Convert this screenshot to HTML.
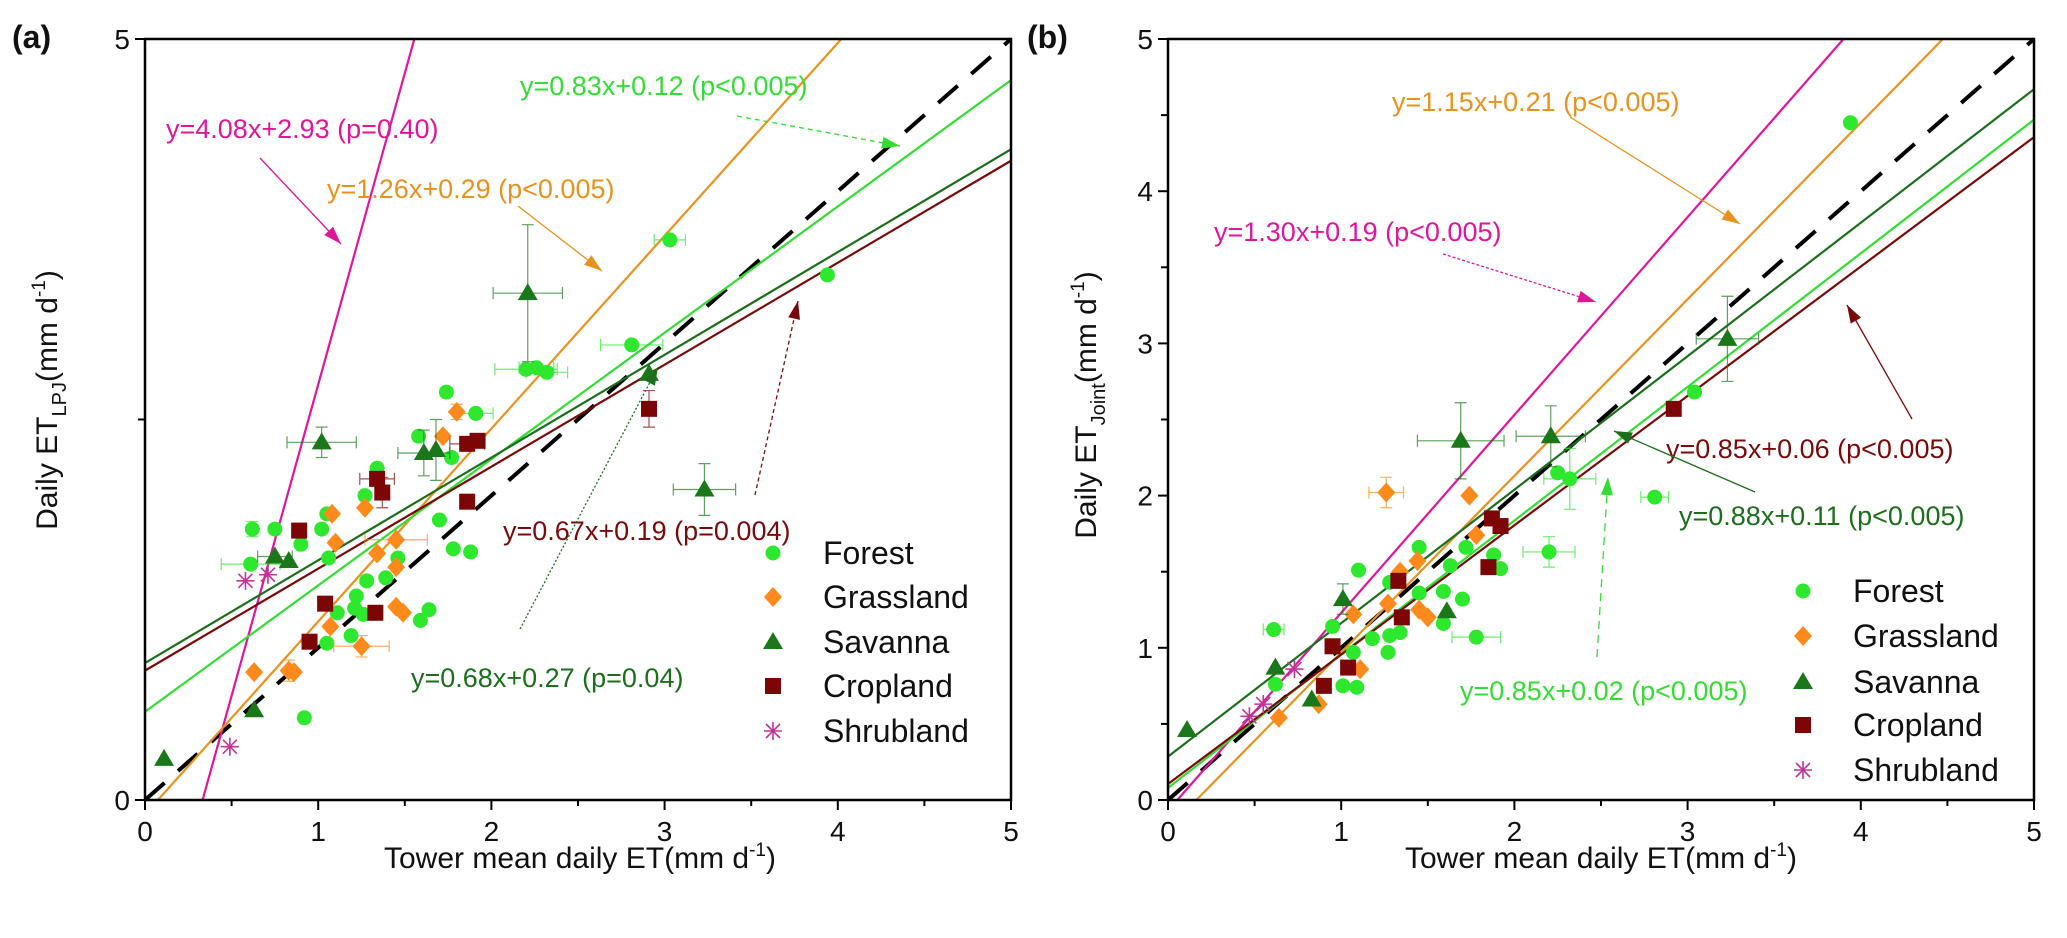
<!DOCTYPE html>
<html><head><meta charset="utf-8"><style>
html,body{margin:0;padding:0;background:#fff;}
svg{display:block;font-family:"Liberation Sans",Arial,sans-serif;}
</style></head><body>
<svg id="chart" width="2067" height="938" viewBox="0 0 2067 938" xmlns="http://www.w3.org/2000/svg"></svg>
<script>
// ---------- DATA ----------
const xTicks = [0,1,2,3,4,5];
const yTicksA = [0,5];
const yTicksB = [0,1,2,3,4,5];
const classes = ["Forest","Grassland","Savanna","Cropland","Shrubland"];
// panel (a) points [x, y, xerr, yerr]
const aForest = [[3.03,3.68,0.09,0],[2.81,2.99,0.18,0],[2.20,2.83,0.18,0],[2.26,2.84,0.1,0],[2.32,2.81,0.12,0],[1.74,2.68,0,0],[1.91,2.54,0.1,0],[1.58,2.39,0,0],[1.77,2.25,0,0],[1.34,2.18,0,0],[1.27,2.0,0,0],[1.05,1.88,0,0],[1.70,1.84,0,0],[0.62,1.78,0,0.05],[0.75,1.78,0,0],[0.90,1.68,0,0],[1.02,1.78,0,0],[1.06,1.59,0,0],[0.61,1.55,0.17,0],[1.78,1.65,0,0],[1.88,1.63,0,0],[1.46,1.59,0,0],[1.39,1.46,0,0],[1.28,1.44,0,0],[1.22,1.34,0,0],[1.21,1.26,0,0],[1.11,1.23,0,0],[1.26,1.22,0,0],[1.59,1.18,0,0],[1.64,1.25,0,0],[1.19,1.08,0,0],[1.05,1.03,0,0],[0.92,0.54,0,0],[3.94,3.45,0,0]];
const aGrass = [[1.80,2.55,0,0.05],[1.72,2.39,0,0],[1.27,1.92,0,0],[1.08,1.88,0,0],[1.10,1.69,0,0],[1.45,1.71,0.18,0],[1.34,1.62,0,0],[1.45,1.53,0,0],[1.45,1.27,0,0],[1.49,1.23,0,0],[1.07,1.14,0,0],[1.25,1.01,0.16,0.07],[0.63,0.84,0,0],[0.83,0.85,0,0.07],[0.86,0.84,0,0]];
const aSav = [[2.21,3.33,0.2,0.45],[1.02,2.35,0.2,0.1],[1.61,2.28,0.15,0.15],[1.68,2.30,0,0.2],[2.91,2.80,0,0],[3.23,2.04,0.18,0.17],[0.75,1.60,0.1,0],[0.83,1.57,0,0],[0.63,0.59,0,0],[0.11,0.27,0,0]];
const aCrop = [[0.89,1.77,0,0],[1.34,2.11,0.1,0],[1.37,2.02,0,0.1],[1.86,2.34,0.1,0],[1.92,2.36,0,0],[1.86,1.96,0,0],[2.91,2.57,0,0.12],[1.04,1.29,0,0],[1.33,1.23,0,0],[0.95,1.04,0,0]];
const aShrub = [[0.58,1.44,0,0],[0.71,1.48,0,0],[0.49,0.35,0,0]];
// panel (a) fitted lines [slope, intercept]
const aLines = {magenta:[4.09,-1.36], orange:[1.267,-0.094], light:[0.83,0.58], dark:[0.675,0.90], red:[0.67,0.85]};
// panel (b) points
const bForest = [[0.61,1.12,0.06,0],[1.10,1.51,0,0],[1.45,1.66,0,0],[1.63,1.54,0,0],[1.88,1.61,0,0],[1.92,1.52,0,0],[1.72,1.66,0,0],[2.20,1.63,0.15,0.1],[2.25,2.15,0,0],[2.32,2.11,0.15,0.2],[2.81,1.99,0.08,0],[1.70,1.32,0,0],[1.59,1.37,0,0],[1.45,1.36,0,0],[1.59,1.16,0,0],[1.78,1.07,0.14,0],[1.28,1.43,0,0],[1.28,1.08,0,0],[1.18,1.06,0,0],[1.34,1.10,0,0],[1.27,0.97,0,0],[1.07,0.97,0,0],[1.01,0.75,0,0],[1.09,0.74,0,0],[0.62,0.76,0,0],[0.95,1.14,0,0],[3.94,4.45,0,0],[3.04,2.68,0,0]];
const bGrass = [[1.26,2.02,0.1,0.1],[1.74,2.0,0,0],[1.34,1.50,0,0],[1.44,1.57,0,0],[1.27,1.29,0,0],[1.07,1.22,0,0],[1.45,1.25,0,0],[1.50,1.20,0,0],[1.11,0.86,0,0],[1.78,1.74,0,0],[0.64,0.54,0,0],[0.87,0.63,0,0]];
const bSav = [[1.69,2.36,0.25,0.25],[2.21,2.39,0.2,0.2],[1.01,1.32,0,0.1],[1.61,1.24,0,0],[0.62,0.87,0,0],[0.11,0.46,0,0],[0.83,0.66,0,0],[3.23,3.03,0.18,0.28]];
const bCrop = [[1.87,1.85,0,0],[1.92,1.80,0,0],[1.85,1.53,0,0],[1.33,1.44,0,0],[1.35,1.20,0,0],[0.95,1.01,0,0],[1.04,0.87,0,0],[0.90,0.75,0,0],[2.92,2.57,0,0]];
const bShrub = [[0.73,0.86,0,0],[0.47,0.55,0,0],[0.55,0.63,0,0]];
const bLines = {magenta:[1.30,-0.07], orange:[1.16,-0.19], dark:[0.877,0.285], light:[0.878,0.08], red:[0.85,0.105]};

// ---------- RENDER ----------
const svg = document.getElementById('chart');
const NS = 'http://www.w3.org/2000/svg';
function mk(tag, attrs, parent){const e=document.createElementNS(NS,tag);for(const k in attrs)e.setAttribute(k,attrs[k]);(parent||svg).appendChild(e);return e;}
const COL = {Forest:'#2ee82e',Grassland:'#ff8a1c',Savanna:'#1a781a',Cropland:'#7c0606',Shrubland:'#c0359a'};
const LCOL = {magenta:'#e0169a', orange:'#e8921e', light:'#33dd33', dark:'#1c6e1c', red:'#780a0a'};

function makeAxes(L,R,T,B){
  const sx=v=>L+(R-L)*v/5, sy=v=>B-(B-T)*v/5;
  return {sx,sy,L,R,T,B};
}
const A = makeAxes(145,1011,39,800);
const Bp = makeAxes(1168,2034,39,800);

function marker(g, cls, px, py){
  let e;
  const c=COL[cls];
  if(cls==='Forest'){e=mk('circle',{cx:px,cy:py,r:7.5,fill:c},g);}
  else if(cls==='Grassland'){e=mk('polygon',{points:`${px},${py-10} ${px+9},${py} ${px},${py+10} ${px-9},${py}`,fill:c},g);}
  else if(cls==='Savanna'){e=mk('polygon',{points:`${px},${py-10} ${px+10},${py+7} ${px-10},${py+7}`,fill:c},g);}
  else if(cls==='Cropland'){e=mk('rect',{x:px-8,y:py-8,width:16,height:16,fill:c},g);}
  else {e=mk('path',{d:`M${px-9},${py}H${px+9}M${px},${py-9}V${py+9}M${px-7},${py-7}L${px+7},${py+7}M${px+7},${py-7}L${px-7},${py+7}`,stroke:c,'stroke-width':1.6,fill:'none'},g);}
  return e;
}

function drawPoints(ax, cls, pts){
  const g=mk('g',{});
  
  
  pts.forEach(p=>{
    const px=ax.sx(p[0]), py=ax.sy(p[1]);
    if(p[2]>0){const x1=ax.sx(p[0]-p[2]),x2=ax.sx(p[0]+p[2]);
      const eb=mk('path',{d:`M${x1},${py}H${x2}M${x1},${py-6}V${py+6}M${x2},${py-6}V${py+6}`,stroke:COL[cls],'stroke-width':1.2,opacity:0.7,fill:'none'},g);
      
      }
    if(p[3]>0){const y1=ax.sy(p[1]-p[3]),y2=ax.sy(p[1]+p[3]);
      const eb=mk('path',{d:`M${px},${y1}V${y2}M${px-6},${y1}H${px+6}M${px-6},${y2}H${px+6}`,stroke:COL[cls],'stroke-width':1.2,opacity:0.7,fill:'none'},g);
      
      }
    const m=marker(g,cls,px,py);
    
    
  });
}

function clipLine(ax, m, b){
  let x0=0,x1=5;
  if(m!==0){const xa=(0-b)/m, xb=(5-b)/m; const lo=Math.min(xa,xb), hi=Math.max(xa,xb); x0=Math.max(x0,lo); x1=Math.min(x1,hi);}
  return [ax.sx(x0),ax.sy(m*x0+b),ax.sx(x1),ax.sy(m*x1+b)];
}

function drawLines(ax, lines, name){
  const c=clipLine(ax,1,0);
  const d=mk('line',{x1:c[0],y1:c[1],x2:c[2],y2:c[3],stroke:'#000','stroke-width':4,'stroke-dasharray':'26,18'});
  
  
  for(const k in lines){
    const q=clipLine(ax,lines[k][0],lines[k][1]);
    const l=mk('line',{x1:q[0],y1:q[1],x2:q[2],y2:q[3],stroke:LCOL[k],'stroke-width':2.2});
    
    
  }
}

function drawFrame(ax, yTicks, minorY, name){
  const f=mk('rect',{x:ax.L,y:ax.T,width:ax.R-ax.L,height:ax.B-ax.T,fill:'none',stroke:'#000','stroke-width':2.5});
  
  
  xTicks.forEach(v=>{
    mk('line',{x1:ax.sx(v),y1:ax.B,x2:ax.sx(v),y2:ax.B+10,stroke:'#000','stroke-width':2});
    const t=mk('text',{x:ax.sx(v),y:ax.B+41,'font-size':28,'text-anchor':'middle',fill:'#111'});
    t.textContent=v;
    
    
    if(v<5) mk('line',{x1:ax.sx(v+0.5),y1:ax.B,x2:ax.sx(v+0.5),y2:ax.B+6,stroke:'#000','stroke-width':2});
  });
  yTicks.forEach(v=>{
    mk('line',{x1:ax.L-10,y1:ax.sy(v),x2:ax.L,y2:ax.sy(v),stroke:'#000','stroke-width':2});
    const t=mk('text',{x:ax.L-15,y:ax.sy(v)+10,'font-size':28,'text-anchor':'end',fill:'#111'});
    t.textContent=v;
    
    
  });
  minorY.forEach(v=>{ mk('line',{x1:ax.L-7,y1:ax.sy(v),x2:ax.L,y2:ax.sy(v),stroke:'#000','stroke-width':2}); });
}

function txt(x,y,s,col,size,name,extra){
  const t=mk('text',Object.assign({x:x,y:y,'font-size':size,fill:col},extra||{}));
  t.textContent=s;
  
  
  return t;
}
function arrow(x1,y1,x2,y2,col,dash,name){
  const g=mk('g',{});
  
  
  mk('line',{x1:x1,y1:y1,x2:x2,y2:y2,stroke:col,'stroke-width':1.3,'stroke-dasharray':dash||'none'},g);
  const a=Math.atan2(y2-y1,x2-x1), L=18, W=6;
  const bx=x2-L*Math.cos(a), by=y2-L*Math.sin(a);
  const px=-Math.sin(a)*W, py=Math.cos(a)*W;
  mk('polygon',{points:`${x2},${y2} ${bx+px},${by+py} ${bx-px},${by-py}`,fill:col},g);
}

// Panel a
drawLines(A, aLines, 'panel-a');
drawPoints(A,'Forest',aForest); drawPoints(A,'Grassland',aGrass); drawPoints(A,'Savanna',aSav); drawPoints(A,'Cropland',aCrop); drawPoints(A,'Shrubland',aShrub);
drawFrame(A, yTicksA, [2.5], 'panel-a');
// Panel b
drawLines(Bp, bLines, 'panel-b');
drawPoints(Bp,'Forest',bForest); drawPoints(Bp,'Grassland',bGrass); drawPoints(Bp,'Savanna',bSav); drawPoints(Bp,'Cropland',bCrop); drawPoints(Bp,'Shrubland',bShrub);
drawFrame(Bp, yTicksB, [0.5,1.5,2.5,3.5,4.5], 'panel-b');

// annotations panel a
const FS=27;
txt(520,95,'y=0.83x+0.12 (p<0.005)',LCOL.light,FS,'eq-forest-a');
arrow(737,116,900,146,LCOL.light,'5,4','arrow-forest-a');
txt(166,138,'y=4.08x+2.93 (p=0.40)',LCOL.magenta,FS,'eq-shrub-a');
arrow(260,158,341,244,LCOL.magenta,null,'arrow-shrub-a');
txt(327,198,'y=1.26x+0.29 (p<0.005)',LCOL.orange,FS,'eq-grass-a');
arrow(518,206,602,271,LCOL.orange,null,'arrow-grass-a');
txt(503,540,'y=0.67x+0.19 (p=0.004)',LCOL.red,FS,'eq-crop-a');
arrow(755,495,798,301,LCOL.red,'4,3','arrow-crop-a');
txt(411,687,'y=0.68x+0.27 (p=0.04)',LCOL.dark,FS,'eq-savanna-a');
arrow(520,629,658,367,LCOL.dark,'2,2','arrow-savanna-a');
// annotations panel b
txt(1392,111,'y=1.15x+0.21 (p<0.005)',LCOL.orange,FS,'eq-grass-b');
arrow(1570,117,1740,224,LCOL.orange,null,'arrow-grass-b');
txt(1214,241,'y=1.30x+0.19 (p<0.005)',LCOL.magenta,FS,'eq-shrub-b');
arrow(1443,254,1596,302,LCOL.magenta,'3,2','arrow-shrub-b');
txt(1666,458,'y=0.85x+0.06 (p<0.005)',LCOL.red,FS,'eq-crop-b');
arrow(1912,419,1847,305,LCOL.red,null,'arrow-crop-b');
txt(1679,525,'y=0.88x+0.11 (p<0.005)',LCOL.dark,FS,'eq-savanna-b');
arrow(1755,492,1614,431,LCOL.dark,null,'arrow-savanna-b');
txt(1460,700,'y=0.85x+0.02 (p<0.005)',LCOL.light,FS,'eq-forest-b');
arrow(1597,657,1608,477,LCOL.light,'8,6','arrow-forest-b');

// legends
function legend(mx, tx, rows, name){
  const g=mk('g',{});
  
  
  classes.forEach((c,i)=>{
    const m=marker(g,c,mx,rows[i]);
    
    
    const t=mk('text',{x:tx,y:rows[i]+11,'font-size':32,fill:'#111'},g);
    t.textContent=c;
    
    
  });
}
legend(773,823,[553,597,642,686,731],'legend-a');
legend(1803,1853,[591,636,682,725,770],'legend-b');

// axis titles
function xTitle(cx){
  const t=mk('text',{x:cx,y:868,'font-size':30,'text-anchor':'middle',fill:'#111'});
  t.innerHTML='Tower mean daily ET(mm d<tspan dy="-12" font-size="19">-1</tspan><tspan dy="12">)</tspan>';
  
  
}
xTitle(580); xTitle(1601);
function yTitle(x,cy,sub){
  const t=mk('text',{x:0,y:0,'font-size':30,'text-anchor':'middle',fill:'#111',transform:`translate(${x},${cy}) rotate(-90)`});
  t.innerHTML='Daily ET<tspan dy="9" font-size="20">'+sub+'</tspan><tspan dy="-9">(mm d</tspan><tspan dy="-12" font-size="19">-1</tspan><tspan dy="12">)</tspan>';
  
  
}
yTitle(57,400,'LPJ'); yTitle(1096,405,'Joint');
txt(12,48,'(a)','#111',32,'panel-label-a',{'font-weight':'bold'});
txt(1027,48,'(b)','#111',32,'panel-label-b',{'font-weight':'bold'});
</script>
</body></html>
